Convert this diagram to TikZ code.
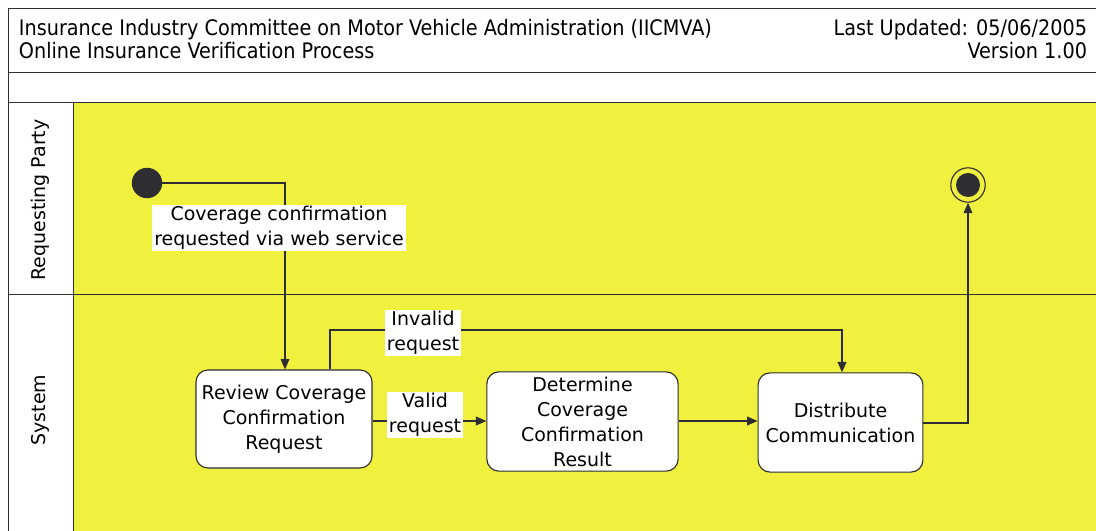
\documentclass[tikz,border=0pt]{standalone}
\usepackage{fontspec}
\setmainfont{DejaVu Sans}
\newfontfamily\headfont{DejaVu Sans Condensed}
\usetikzlibrary{arrows.meta}
\definecolor{laneyellow}{RGB}{240,240,62}
\definecolor{inkgray}{RGB}{45,45,50}
\tikzset{
    activity/.style={rectangle, rounded corners=3mm, draw=inkgray, fill=white, thick,
        align=center, font=\fontsize{13.5}{17.8}\selectfont, inner sep=1mm},
    guard/.style={fill=white, align=center, inner sep=0.5mm, font=\fontsize{13.5}{17.5}\selectfont},
    flow/.style={draw=inkgray, thick, -{Triangle[length=2.6mm,width=2.2mm]}},
    lanelabel/.style={rotate=90, font=\fontsize{13.5}{15}\selectfont}
}

\begin{document}
\begin{tikzpicture}[x=0.025cm, y=-0.025cm]
    \useasboundingbox (0,0) rectangle (1096,531);
    \clip (0,0) rectangle (1096,531);
    \fill[white] (0,0) rectangle (1096,531);
    % frame and lanes
    \fill[laneyellow] (73,102) rectangle (1110,540);
    \draw[inkgray] (8,8) rectangle (1110,540);
    \draw[inkgray] (8,72) -- (1110,72);
    \draw[inkgray] (8,102) -- (1110,102);
    \draw[inkgray] (73,102) -- (73,540);
    \draw[inkgray] (8,294) -- (1110,294);

    \node (title) [anchor=west, align=left, font=\headfont\fontsize{15.2}{16.3}\selectfont]
        at (14,39) {Insurance Industry Committee on Motor Vehicle Administration (IICMVA)\\
        Online Insurance Verification Process};
    \node (update) [anchor=east, align=right, font=\headfont\fontsize{15.2}{16.3}\selectfont]
        at (1092,39) {Last Updated: 05/06/2005\\ Version 1.00};

    \node (party) [lanelabel] at (40,200) {Requesting Party};
    \node (system) [lanelabel] at (40,410) {System};

    % states
    \node (start) [circle, fill=inkgray, minimum size=7.6mm, inner sep=0mm] at (147,183) {};
    \node (stop) [circle, draw=inkgray, thick, fill=laneyellow, minimum size=8.6mm, inner sep=0mm] at (968,185) {};
    \node (stopdot) [circle, fill=inkgray, minimum size=6mm, inner sep=0mm] at (968,185) {};

    \node (review) [activity, minimum width=4.4cm, minimum height=2.45cm] at (284,419)
        {Review Coverage\\ Confirmation\\ Request};
    \node (determine) [activity, minimum width=4.78cm, minimum height=2.48cm] at (582.5,421.5)
        {Determine\\ Coverage\\ Confirmation\\ Result};
    \node (distribute) [activity, minimum width=4.12cm, minimum height=2.48cm] at (840.5,422.5)
        {Distribute\\ Communication};

    % transitions
    \draw[flow] (start) -- (285,183) -- (review.north -| 285,0);
    \node (reqlabel) [guard] at (279,228) {Coverage confirmation\\ requested via web service};
    \draw[flow] (review.north -| 330,0) -- (330,330) -- (842,330) -- (distribute.north -| 842,0);
    \node (invalid) [guard] at (423,333) {Invalid\\ request};
    \draw[flow] (review.east |- 0,421) -- (determine.west |- 0,421);
    \node (valid) [guard] at (425,415) {Valid\\ request};
    \draw[flow] (determine.east |- 0,421) -- (distribute.west |- 0,421);
    \draw[flow] (distribute.east |- 0,423) -- (968,423) -- (stop);
\end{tikzpicture}
\end{document}
